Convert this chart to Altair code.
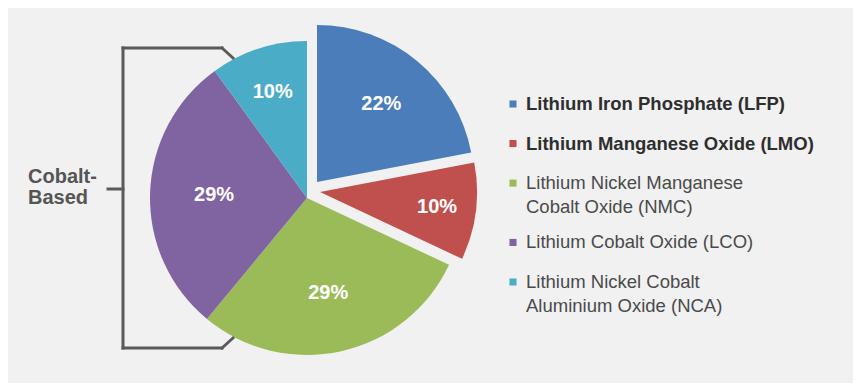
import altair as alt
import pandas as pd

# ---------------- data ----------------
categories = [
    "Lithium Iron Phosphate (LFP)",
    "Lithium Manganese Oxide (LMO)",
    "Lithium Nickel Manganese Cobalt Oxide (NMC)",
    "Lithium Cobalt Oxide (LCO)",
    "Lithium Nickel Cobalt Aluminium Oxide (NCA)",
]
legend_labels = [
    "Lithium Iron Phosphate (LFP)",
    "Lithium Manganese Oxide (LMO)",
    "Lithium Nickel Manganese\nCobalt Oxide (NMC)",
    "Lithium Cobalt Oxide (LCO)",
    "Lithium Nickel Cobalt\nAluminium Oxide (NCA)",
]
shares = [22, 10, 29, 29, 10]
cobalt_based = [False, False, True, True, True]
colors = ["#4b7dbb", "#c0504d", "#9bbb59", "#8064a2", "#4aacc6"]
bracket_label = "Cobalt-\nBased"

df = pd.DataFrame({
    "category": categories,
    "label": legend_labels,
    "share": shares,
    "cobalt": cobalt_based,
    "order": list(range(len(categories))),
})

# ---------------- styles ----------------
FONT = "Liberation Sans"
BG = "#f1f1f1"
CX, CY, R = 299, 190, 157
# explode offsets (px) and label radius per slice
explode = {0: (10, -16), 1: (13, -6), 2: (0, 0), 3: (0, 0), 4: (0, 0)}
label_r = {0: 101, 1: 118, 2: 97, 3: 93, 4: 111}

base = alt.Chart(df).transform_window(
    cum="sum(share)", sort=[alt.SortField("order")], frame=[None, 0]
).transform_calculate(
    start="datum.cum - datum.share",
    mid="datum.cum - datum.share / 2",
    pct="datum.share + '%'",
)

color = alt.Color("category:N", scale=alt.Scale(domain=categories, range=colors), legend=None)
theta_scale = alt.Scale(domain=[0, 100])

layers = []
for i in range(len(categories)):
    dx, dy = explode[i]
    layers.append(
        base.transform_filter(f"datum.order == {i}")
        .mark_arc(outerRadius=R, xOffset=dx, yOffset=dy)
        .encode(
            theta=alt.Theta("start:Q", scale=theta_scale),
            theta2="cum:Q",
            color=color,
            x=alt.value(CX),
            y=alt.value(CY),
        )
    )
for i in range(len(categories)):
    dx, dy = explode[i]
    layers.append(
        base.transform_filter(f"datum.order == {i}")
        .mark_text(radius=label_r[i], xOffset=dx, yOffset=dy, font=FONT, fontSize=20,
                   fontWeight="bold", color="white", align="center", baseline="middle")
        .encode(
            theta=alt.Theta("mid:Q", scale=theta_scale),
            text="pct:N",
            x=alt.value(CX),
            y=alt.value(CY),
        )
    )

# ---------------- legend (manual) ----------------
legend_base = base.transform_calculate(
    extra="length(split(datum.label, '\\n')) - 1"
).transform_window(
    cum_extra="sum(extra)", sort=[alt.SortField("order")], frame=[None, 0]
).transform_calculate(
    row="2 * datum.order + datum.cum_extra - datum.extra"
)
ys = alt.Y("row:Q", scale=alt.Scale(range=[96, 274], nice=False, zero=True), axis=None)

layers.append(
    legend_base.mark_square(size=50, opacity=1).encode(x=alt.value(505), y=ys, color=color)
)
layers.append(
    legend_base.transform_filter("!datum.cobalt").mark_text(
        align="left", baseline="alphabetic", dy=6, font=FONT, fontSize=18.5,
        fontWeight="bold", color="#2e2e2e", lineBreak="\n", lineHeight=24,
    ).encode(x=alt.value(518), y=ys, text="label:N")
)
layers.append(
    legend_base.transform_filter("datum.cobalt").mark_text(
        align="left", baseline="alphabetic", dy=6, font=FONT, fontSize=18.5,
        fontWeight="normal", color="#4a4a4a", lineBreak="\n", lineHeight=24,
    ).encode(x=alt.value(518), y=ys, text="label:N")
)

# ---------------- bracket annotation ----------------
one = alt.Chart(pd.DataFrame({"k": [0]}))
BR = dict(color="#5a5a5a", strokeWidth=3, strokeCap="square")
segments = [
    (115, 40, 115, 340),
    (115, 40, 214, 40),
    (214, 40, 225, 50),
    (115, 340, 214, 340),
    (214, 340, 225, 330),
    (100, 181, 115, 181),
]
for x1, y1, x2, y2 in segments:
    layers.append(
        one.mark_rule(**BR).encode(
            x=alt.value(x1), y=alt.value(y1), x2=alt.value(x2), y2=alt.value(y2)
        )
    )
layers.append(
    one.mark_text(align="left", baseline="alphabetic", font=FONT, fontSize=20,
                  fontWeight="bold", color="#555555", lineBreak="\n", lineHeight=21)
    .encode(x=alt.value(20), y=alt.value(175), text=alt.value(bracket_label))
)

chart = alt.layer(*layers).properties(
    width=845, height=375, padding=0, autosize=alt.AutoSizeParams(type="none"),
    background=BG,
).configure_view(stroke=None)

chart.save("out.html", embed_options={"renderer": "svg", "actions": False})
